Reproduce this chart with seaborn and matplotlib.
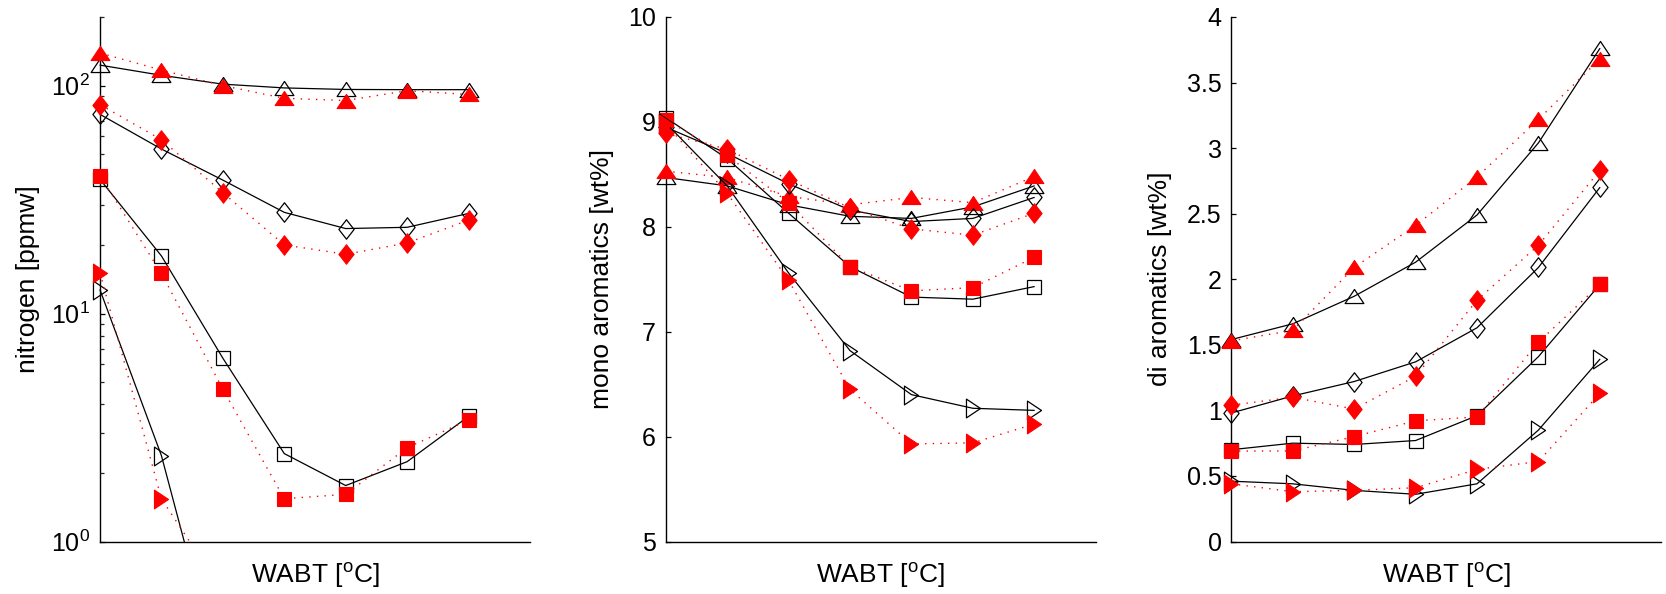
import numpy as np
import pandas as pd
import matplotlib
matplotlib.use("Agg")
import matplotlib.pyplot as plt
import matplotlib.ticker as mticker
from matplotlib.path import Path
from matplotlib.transforms import Bbox, TransformedBbox
import seaborn as sns

# ---------------- data ----------------
x_pos = [0, 1, 2, 3, 4, 5, 6]
nan = np.nan

# nitrogen [ppmw] (log scale)
n_tri_b = [123, 111, 101.5, 97.7, 96.2, 96, 96]
n_tri_r = [139, 117, 100, 88, 86, 95, 91.5]
n_dia_b = [74.8, 52.7, 38.5, 27.8, 23.6, 23.9, 27.5]
n_dia_r = [82.6, 57.9, 33.9, 20.0, 18.2, 20.4, 25.7]
n_sq_b = [38.8, 17.9, 6.37, 2.43, 1.76, 2.24, 3.54]
n_sq_r = [40.3, 15.0, 4.66, 1.54, 1.61, 2.58, 3.41]
n_rt_b = [12.7, 2.38, 0.23, nan, nan, nan, nan]
n_rt_r = [15.1, 1.54, 0.60, nan, nan, nan, nan]

# mono aromatics [wt%]
m_tri_b = [8.47, 8.39, 8.21, 8.10, 8.08, 8.19, 8.39]
m_tri_r = [8.53, 8.47, 8.29, 8.21, 8.28, 8.23, 8.48]
m_dia_b = [8.95, 8.70, 8.41, 8.16, 8.05, 8.08, 8.28]
m_dia_r = [8.89, 8.74, 8.45, 8.18, 7.98, 7.92, 8.13]
m_sq_b = [9.04, 8.65, 8.13, 7.62, 7.33, 7.31, 7.43]
m_sq_r = [9.02, 8.68, 8.23, 7.62, 7.39, 7.42, 7.71]
m_rt_b = [8.99, 8.39, 7.56, 6.82, 6.40, 6.27, 6.25]
m_rt_r = [8.98, 8.32, 7.49, 6.45, 5.93, 5.94, 6.12]

# di aromatics [wt%]
d_tri_b = [1.54, 1.66, 1.87, 2.13, 2.49, 3.04, 3.76]
d_tri_r = [1.53, 1.61, 2.09, 2.41, 2.78, 3.22, 3.68]
d_dia_b = [0.98, 1.11, 1.22, 1.37, 1.63, 2.09, 2.70]
d_dia_r = [1.04, 1.10, 1.01, 1.26, 1.84, 2.26, 2.83]
d_sq_b = [0.70, 0.75, 0.74, 0.77, 0.96, 1.41, 1.96]
d_sq_r = [0.69, 0.69, 0.80, 0.92, 0.95, 1.52, 1.96]
d_rt_b = [0.46, 0.44, 0.39, 0.36, 0.44, 0.85, 1.39]
d_rt_r = [0.44, 0.38, 0.39, 0.41, 0.55, 0.61, 1.13]

y_labels = ["nitrogen [ppmw]", "mono aromatics [wt%]", "di aromatics [wt%]"]
x_label = "WABT [$^{\\mathrm{o}}$C]"

# ---------------- style ----------------
sns.set_theme(style="white")
plt.rcParams["font.family"] = ["Liberation Sans", "DejaVu Sans"]
plt.rcParams["mathtext.fontset"] = "custom"
plt.rcParams["mathtext.rm"] = "Liberation Sans"
plt.rcParams["mathtext.it"] = "Liberation Sans:italic"
plt.rcParams["mathtext.bf"] = "Liberation Sans:bold"


def closed(verts):
    v = list(verts) + [verts[0]]
    codes = [Path.MOVETO] + [Path.LINETO] * (len(verts) - 1) + [Path.CLOSEPOLY]
    return Path(v, codes)


TRI = closed([(0, 0.75), (-1, -0.75), (1, -0.75)])
RTRI = closed([(0.75, 0), (-0.75, 1), (-0.75, -1)])
DIA = closed([(0, 1), (0.78, 0), (0, -1), (-0.78, 0)])
SQ = "s"
shapes = [(TRI, 13.5), (DIA, 14), (SQ, 10), (RTRI, 13.5)]

panels = [
    [(n_tri_b, n_tri_r), (n_dia_b, n_dia_r), (n_sq_b, n_sq_r), (n_rt_b, n_rt_r)],
    [(m_tri_b, m_tri_r), (m_dia_b, m_dia_r), (m_sq_b, m_sq_r), (m_rt_b, m_rt_r)],
    [(d_tri_b, d_tri_r), (d_dia_b, d_dia_r), (d_sq_b, d_sq_r), (d_rt_b, d_rt_r)],
]

W, H = 1666, 594
fig = plt.figure(figsize=(W / 100, H / 100), dpi=100)
lefts = [100, 665.7, 1231.3]
bottom_px, top_px, width_px = 541.5, 17, 430
axes = [fig.add_axes([l / W, (H - bottom_px) / H, width_px / W, (bottom_px - top_px) / H])
        for l in lefts]

for ax, series in zip(axes, panels):
    for (blk, red), (mk, ms) in zip(series, shapes):
        dfb = pd.DataFrame({"x": x_pos, "y": blk})
        dfr = pd.DataFrame({"x": x_pos, "y": red})
        sns.lineplot(data=dfb, x="x", y="y", ax=ax, color="black", lw=0.9,
                     marker=mk, markersize=ms, markerfacecolor="none",
                     markeredgecolor="black", markeredgewidth=0.9,
                     errorbar=None, legend=False, sort=False)
        sns.lineplot(data=dfr, x="x", y="y", ax=ax, color="#ff0000", lw=1.0,
                     linestyle=(0, (1.0, 4.5)),
                     marker=mk, markersize=ms, markerfacecolor="#ff0000",
                     markeredgecolor="#ff0000", markeredgewidth=0.8,
                     errorbar=None, legend=False, sort=False)
    # allow markers on the y axis to show fully, clip below the x axis
    clip = TransformedBbox(Bbox([[-0.06, 0.0], [1.0, 1.06]]), ax.transAxes)
    for ln in ax.get_lines():
        ln.set_clip_box(clip)

for i, ax in enumerate(axes):
    ax.set_xlim(0, 7)
    ax.set_xticks([])
    ax.set_xlabel(x_label, fontsize=19, labelpad=14, color="black")
    ax.set_ylabel(y_labels[i], fontsize=19, color="black")
    for s in ["top", "right"]:
        ax.spines[s].set_visible(False)
    for s in ["left", "bottom"]:
        ax.spines[s].set_color("black")
        ax.spines[s].set_linewidth(1.0)
        ax.spines[s].set_zorder(0.5)
    ax.tick_params(axis="y", which="major", direction="in", length=3.5, width=0.9,
                   labelsize=18, pad=7, colors="black", left=True)
    ax.tick_params(axis="y", which="minor", direction="in", length=3.0, width=0.9,
                   left=True)
    ax.set_facecolor("white")

# left: log
axes[0].set_yscale("log")
axes[0].set_ylim(1, 200)
axes[0].yaxis.set_major_locator(mticker.LogLocator(base=10, numticks=10))
axes[0].yaxis.set_minor_locator(mticker.LogLocator(base=10, subs=np.arange(2, 10), numticks=10))
axes[0].yaxis.set_minor_formatter(mticker.NullFormatter())
axes[0].yaxis.set_label_coords(-0.14, 0.5)

axes[1].set_ylim(5, 10)
axes[1].set_yticks([5, 6, 7, 8, 9, 10])
axes[1].yaxis.set_label_coords(-0.12, 0.5)

axes[2].set_ylim(0, 4)
axes[2].set_yticks(np.arange(0, 4.01, 0.5))
axes[2].yaxis.set_major_formatter(mticker.FuncFormatter(lambda v, p: f"{v:g}"))
axes[2].yaxis.set_label_coords(-0.138, 0.5)

fig.savefig("out.png", dpi=100, facecolor="white")
